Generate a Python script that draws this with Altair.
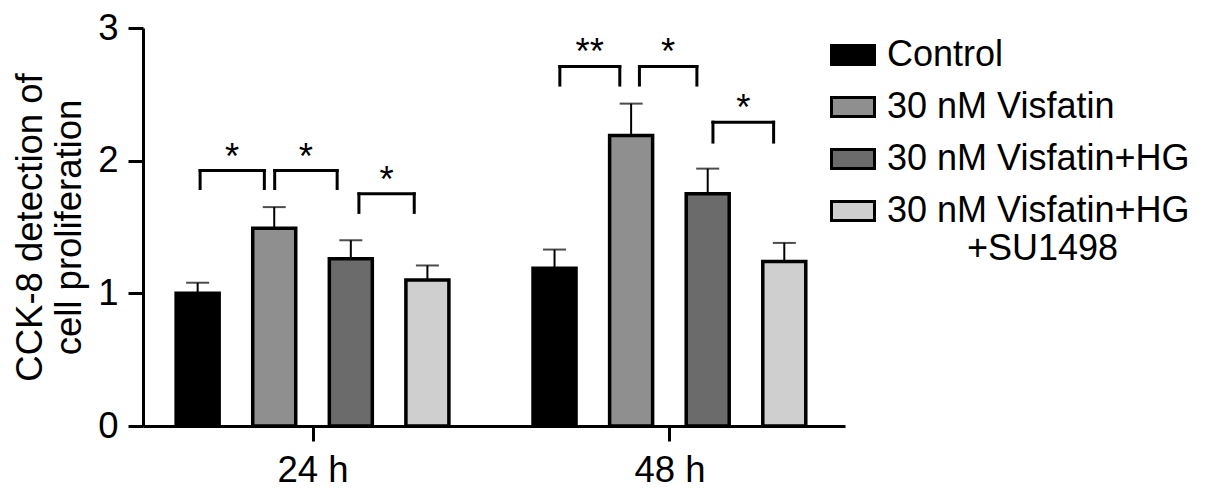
import altair as alt
import pandas as pd

# ---- data ----
groups = ["24 h", "48 h"]
series = ["Control", "30 nM Visfatin", "30 nM Visfatin+HG", "30 nM Visfatin+HG+SU1498"]
mean_24 = [1.00, 1.49, 1.26, 1.10]
mean_48 = [1.19, 2.19, 1.75, 1.24]
sem_24 = [0.08, 0.16, 0.14, 0.11]
sem_48 = [0.14, 0.24, 0.19, 0.14]
colors = ["#000000", "#8f8f8f", "#6b6b6b", "#cfcfcf"]

# significance brackets (group index, start/end offsets within group, top, leg bottom, label)
br_group = [0, 0, 0, 1, 1, 1]
br_x1 = [-0.315, -0.106, 0.130, -0.307, -0.084, 0.122]
br_x2 = [-0.135, 0.069, 0.285, -0.139, 0.077, 0.292]
br_top = [1.925, 1.925, 1.75, 2.71, 2.71, 2.29]
br_bot = [1.79, 1.79, 1.61, 2.57, 2.57, 2.14]
br_label = ["*", "*", "*", "**", "*", "*"]

STEP = 0.2146  # spacing between bars inside a group (x units, group spacing = 1)

rows = []
for gi, (g, means, sems) in enumerate([(groups[0], mean_24, sem_24), (groups[1], mean_48, sem_48)]):
    for si, s in enumerate(series):
        rows.append({
            "group": g,
            "series": s,
            "xpos": gi + (si - 1.5) * STEP,
            "mean": means[si],
            "top": means[si] + sems[si],
        })
df = pd.DataFrame(rows)

brows = []
for i in range(len(br_group)):
    brows.append({
        "x1": br_group[i] + br_x1[i],
        "x2": br_group[i] + br_x2[i],
        "xm": br_group[i] + (br_x1[i] + br_x2[i]) / 2,
        "top": br_top[i],
        "bot": br_bot[i],
        "label": br_label[i],
    })
dfb = pd.DataFrame(brows)
dfl = pd.concat([
    pd.DataFrame({"x": dfb["x1"], "top": dfb["top"], "bot": dfb["bot"]}),
    pd.DataFrame({"x": dfb["x2"], "top": dfb["top"], "bot": dfb["bot"]}),
])

FONT = "Liberation Sans"
FS = 36.5
LFS = 36

xscale = alt.Scale(domain=[-0.461, 1.478], nice=False, zero=False)
yscale = alt.Scale(domain=[0, 3], nice=False)

xaxis = alt.Axis(
    values=[0, 1],
    labelExpr="datum.value == 0 ? '24 h' : '48 h'",
    title=None,
    tickSize=15,
    labelPadding=11,
    labelFontSize=FS,
    grid=False,
)
yaxis = alt.Axis(
    values=[0, 1, 2, 3],
    format="d",
    title=["CCK-8 detection of", "cell proliferation"],
    titleFontSize=FS,
    titleFontWeight="normal",
    titleLineHeight=39,
    titlePadding=9,
    tickSize=15,
    labelPadding=10,
    labelFontSize=FS,
    grid=False,
)


def X(field):
    return alt.X(field, type="quantitative", scale=xscale, axis=xaxis)


def Y(field):
    return alt.Y(field, type="quantitative", scale=yscale, axis=yaxis)


nb = "\u200b" + "\u00a0" * 8
label_expr = (
    "datum.label == '30 nM Visfatin+HG+SU1498' ? "
    "['30 nM Visfatin+HG', '" + nb + "+SU1498'] : datum.label"
)

stems = alt.Chart(df).mark_rule(color="black", strokeWidth=2).encode(
    x=X("xpos"), y=Y("mean"), y2="top:Q"
)
caps = alt.Chart(df).mark_tick(color="black", orient="horizontal", size=23, thickness=2).encode(
    x=X("xpos"), y=Y("top")
)
bars = alt.Chart(df).mark_bar(size=43, stroke="black", strokeWidth=3.5).encode(
    x=X("xpos"),
    y=Y("mean"),
    color=alt.Color(
        "series:N",
        scale=alt.Scale(domain=series, range=colors),
        sort=series,
        legend=alt.Legend(
            title=None,
            orient="none",
            legendX=687,
            legendY=4,
            labelFontSize=LFS,
            labelFont=FONT,
            labelColor="black",
            labelExpr=label_expr,
            symbolType="M-1,-0.44H1V0.44H-1Z",
            symbolSize=1849,
            symbolStrokeColor="black",
            symbolStrokeWidth=3,
            symbolOpacity=1,
            rowPadding=11,
            labelOffset=11,
            labelLimit=400,
        ),
    ),
)
hlines = alt.Chart(dfb).mark_rule(color="black", strokeWidth=3, strokeCap="square").encode(
    x=X("x1"), x2="x2:Q", y=Y("top")
)
vlines = alt.Chart(dfl).mark_rule(color="black", strokeWidth=3, strokeCap="square").encode(
    x=X("x"), y=Y("top"), y2="bot:Q"
)
stars = alt.Chart(dfb).mark_text(
    font=FONT, fontSize=FS, color="black", baseline="alphabetic", align="center", dy=-2
).encode(x=X("xm"), y=Y("top"), text="label:N")

chart = alt.layer(stems, bars, caps, hlines, vlines, stars).properties(
    width=702,
    height=398,
    autosize="none",
    background="white",
    padding={"left": 135, "top": 20, "right": 352, "bottom": 70},
).configure_view(stroke=None).configure_axis(
    grid=False,
    domainColor="black",
    domainWidth=3,
    tickColor="black",
    tickWidth=3,
    labelColor="black",
    titleColor="black",
    labelFont=FONT,
    titleFont=FONT,
)

chart.save("out.html", embed_options={"renderer": "svg", "actions": False})
